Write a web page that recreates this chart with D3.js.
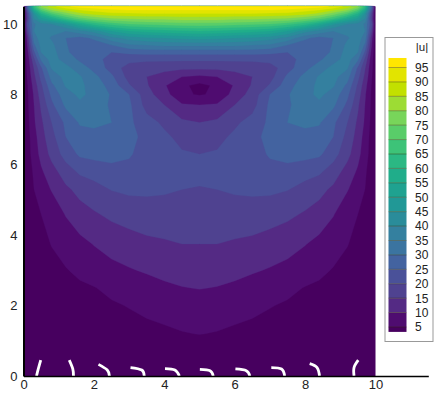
<!DOCTYPE html>
<html>
<head>
<meta charset="utf-8">
<script src="https://cdn.jsdelivr.net/npm/d3@7"></script>
<style>
body { margin: 0; background: #fff; }
text { font-family: "Liberation Sans", Arial, sans-serif; fill: #222; }
</style>
</head>
<body>
<svg id="chart" width="436" height="395"></svg>
<script>
// grid lines of the field
var xs = [0,.12,.3,.5,.8,1.2,1.6,2,2.5,3,3.5,4,4.5,5,5.5,6,6.5,7,7.5,8,8.4,8.8,9.2,9.5,9.7,9.88,10];
var ys = [10.5,10.4,10.3,10.15,10,9.8,9.6,9.4,9.2,9,8.75,8.5,8.25,8,7.7,7.2,6.8,6.3,5.8,5.3,4.6,3.75,3,2.5,2,1.2,.5,0];

// |u|, one row per ys entry
var uRows = [
[2,30,65,80,88,94,97,98,99,100,100,100,100,100,100,100,100,100,99,98,97,94,88,80,65,30,2],
[1,25,55,70,80,86,90,92,94,95,95,95,95,95,95,95,95,95,94,92,90,86,80,70,55,25,1],
[1,20,45,60,70,78,84,87,89,89.5,90,90,90,90,90,90,90,89.5,89,87,84,78,70,60,45,20,1],
[1,18,40,48,55,65,72,76,79,80,81,81,82,82,82,81,81,80,79,76,72,65,55,48,40,18,1],
[1,22,34,38,40,46,55,62,67,70,71,72,73,73,73,72,71,70,67,62,55,46,40,38,34,22,1],
[1,18,35,38,36,35,38,42,50,55,57,58,59,60,59,58,57,55,50,42,38,35,36,38,35,18,1],
[1,13,33,37,34.5,30,28,31,38,42,44,45,46,47,46,45,44,42,38,31,28,30,34.5,37,33,13,1],
[1,11,29,36.5,36,30.5,26,27,30,34,35,36,36,36,36,36,35,34,30,27,26,30.5,36,36.5,29,11,1],
[1,9,24,35,37,31,27,25,25,26,27,27,27,27,27,27,27,26,25,25,27,31,37,35,24,9,1],
[1,7.5,19,31,37,33,29,26,24,22,21,21,21,21,21,21,21,22,24,26,29,33,37,31,19,7.5,1],
[1,6.7,15.5,24,35.5,36.5,32.5,28.5,23,17.5,17,16.5,16,16,16,16.5,17,17.5,23,28.5,32.5,36.5,35.5,24,15.5,6.7,1],
[1,5.9,13.8,21.5,32,36.5,35.5,31.5,26,18,15,13,10,9,10,13,15,18,26,31.5,35.5,36.5,32,21.5,13.8,5.9,1],
[1,5,12,19,28.8,35.5,36,33,28,20.5,15.5,10.5,6,3.5,6,10.5,15.5,20.5,28,33,36,35.5,28.8,19,12,5,1],
[1,4.6,10.7,17.5,26.2,33,36,33.5,29.5,25,17,12,6,4.5,6,12,17,25,29.5,33.5,36,33,26.2,17.5,10.7,4.6,1],
[1,4.3,10,15.8,23.8,31,34,33.5,29,26,18,15,10.5,10,10.5,15,18,26,29,33.5,34,31,23.8,15.8,10,4.3,1],
[1,3.8,9.3,14,20,26,30.5,31,30,26,22,19,16,15,16,19,22,26,30,31,30.5,26,20,14,9.3,3.8,1],
[1,3.3,8,13,18.3,25,28,28.5,28,26,24,21,18.5,17.5,18.5,21,24,26,28,28.5,28,25,18.3,13,8,3.3,1],
[1,3,7.3,11.5,16.5,22,25.8,26.5,26.5,25.5,23,21.5,20.5,20,20.5,21.5,23,25.5,26.5,26.5,25.8,22,16.5,11.5,7.3,3,1],
[1,2.4,5.8,9.2,13,17.5,20.8,22,23.5,23.5,23,22.5,22,22,22,22.5,23,23.5,23.5,22,20.8,17.5,13,9.2,5.8,2.4,1],
[1,2,5,7.5,10.3,14,16.5,18,20.2,21,21,20.7,20,19.5,20,20.7,21,21,20.2,18,16.5,14,10.3,7.5,5,2,1],
[1,1.5,3,5,7,10.3,13,14.5,16,17,17.5,17.5,17.5,17.5,17.5,17.5,17.5,17,16,14.5,13,10.3,7,5,3,1.5,1],
[1,1,2.5,3.5,5.2,7,8.6,10.2,12,13,14,14.5,15,15,15,14.5,14,13,12,10.2,8.6,7,5.2,3.5,2.5,1,1],
[1,1,1.5,2.5,3.5,4.7,6,7,8.5,9.6,10.5,11.5,12,12.3,12,11.5,10.5,9.6,8.5,7,6,4.7,3.5,2.5,1.5,1,1],
[.8,.8,1.2,1.8,2.5,3.5,4.2,4.8,6,7,8,9,9.8,10.2,9.8,9,8,7,6,4.8,4.2,3.5,2.5,1.8,1.2,.8,.8],
[.6,.6,.9,1.2,1.8,2.5,3.2,3.8,4.5,5.2,6,6.5,7,7.5,7,6.5,6,5.2,4.5,3.8,3.2,2.5,1.8,1.2,.9,.6,.6],
[.4,.4,.5,.7,1,1.4,1.8,2.2,2.8,3.3,3.8,4.3,4.8,5.1,4.8,4.3,3.8,3.3,2.8,2.2,1.8,1.4,1,.7,.5,.4,.4],
[.2,.2,.3,.4,.5,.7,.9,1.1,1.3,1.5,1.7,1.9,2,2,2,1.9,1.7,1.5,1.3,1.1,.9,.7,.5,.4,.3,.2,.2],
[0,0,0,0,0,0,0,0,0,0,0,0,0,0,0,0,0,0,0,0,0,0,0,0,0,0,0]
];

var levels = [5,10,15,20,25,30,35,40,45,50,55,60,65,70,75,80,85,90,95];
var bandColors = ["#47005f","#4f0c70","#542a84","#4f4290","#4a5199","#4363a0","#3b74a0","#34809f","#2a8c9a","#219896",
                  "#1fa290","#20ad8a","#2bb883","#3dc378","#59cd69","#78d55a","#9ddc34","#c2e000","#e2e400","#ffe600"];
var xTicks = [0,2,4,6,8,10];
var yTicks = [0,2,4,6,8,10];

// white streamlines near the floor
var stream1 = [[.37,0],[.42,.2],[.49,.45]];
var stream2 = [[1.42,0],[1.40,.2],[1.30,.45]];
var stream3 = [[2.44,0],[2.38,.17],[2.13,.33]];
var stream4 = [[3.43,0],[3.36,.17],[3.04,.24]];
var stream5 = [[4.43,0],[4.30,.17],[4.02,.21]];
var stream6 = [[5.39,0],[5.30,.15],[5.01,.19]];
var stream7 = [[6.43,0],[6.33,.15],[6.02,.2]];
var stream8 = [[7.42,0],[7.33,.2],[7.04,.24]];
var stream9 = [[8.41,0],[8.34,.24],[8.13,.35]];
var stream10 = [[9.39,0],[9.39,.24],[9.51,.45]];
var streams = [stream1,stream2,stream3,stream4,stream5,stream6,stream7,stream8,stream9,stream10];

var svg = d3.select("#chart");
var x = d3.scaleLinear().domain([0,11.5]).range([23.5,428.3]);
var y = d3.scaleLinear().domain([0,10.5]).range([376,6.4]);

// d3.contours works in cell coordinates, values sit at cell centres
var nx = xs.length, ny = ys.length;
var cellX = d3.scaleLinear().domain(xs.map(function(d,i){return i+.5;})).range(xs.map(function(d){return x(d);})).clamp(true);
var cellY = d3.scaleLinear().domain(ys.map(function(d,i){return i+.5;})).range(ys.map(function(d){return y(d);})).clamp(true);
var path = d3.geoPath(d3.geoTransform({point:function(a,b){this.stream.point(cellX(a),cellY(b));}}));

var contours = d3.contours().size([nx,ny]).thresholds(levels)(d3.merge(uRows));

svg.append("rect").attr("x",x(0)).attr("y",y(10.5)).attr("width",x(10)-x(0)).attr("height",y(0)-y(10.5)).attr("fill",bandColors[0]);

svg.append("g").selectAll("path").data(contours).enter().append("path")
    .attr("d",path)
    .attr("fill",function(d,i){return bandColors[i+1];})
    .attr("stroke",function(d,i){return bandColors[i+1];})
    .attr("stroke-width",.3);

var line = d3.line().x(function(d){return x(d[0]);}).y(function(d){return y(d[1]);}).curve(d3.curveNatural);
svg.append("g").selectAll("path").data(streams).enter().append("path")
    .attr("d",line)
    .attr("fill","none")
    .attr("stroke","#fff")
    .attr("stroke-width",2.8);

// axes
var xAxis = svg.append("g").attr("transform","translate(0,"+y(0)+")")
    .call(d3.axisBottom(x).tickValues(xTicks).tickSize(0).tickPadding(4).tickSizeOuter(0));
var yAxis = svg.append("g").attr("transform","translate("+x(0)+",0)")
    .call(d3.axisLeft(y).tickValues(yTicks).tickSize(0).tickPadding(6).tickSizeOuter(0));
xAxis.selectAll("text").attr("font-size",13).style("font-size","13px");
yAxis.selectAll("text").attr("font-size",13).style("font-size","13px");
xAxis.select(".domain").attr("stroke","#000").attr("stroke-width",1.5);
yAxis.select(".domain").attr("stroke","#000").attr("stroke-width",2);

// legend
svg.append("rect").attr("x",385).attr("y",37.5).attr("width",48).attr("height",304)
    .attr("fill","#fff").attr("stroke","#999").attr("stroke-width",1);
svg.append("text").attr("x",422).attr("y",51).attr("text-anchor","middle").style("font-size","11.5px").text("|u|");

var legY = d3.scaleLinear().domain([5,95]).range([327,67.5]);
var legEdges = [3.3].concat(levels,[98.3]);
svg.append("g").selectAll("rect").data(bandColors).enter().append("rect")
    .attr("x",388.5).attr("width",18)
    .attr("y",function(d,i){return legY(legEdges[i+1]);})
    .attr("height",function(d,i){return legY(legEdges[i])-legY(legEdges[i+1]);})
    .attr("fill",function(d){return d;});
svg.append("g").selectAll("line").data(levels).enter().append("line")
    .attr("x1",388.5).attr("x2",406.5)
    .attr("y1",function(d){return legY(d);}).attr("y2",function(d){return legY(d);})
    .attr("stroke","#332b00").attr("stroke-opacity",.4);
var legAxis = svg.append("g").attr("transform","translate(415,0)")
    .call(d3.axisRight(legY).tickValues(levels).tickSize(0).tickPadding(0));
legAxis.select(".domain").remove();
legAxis.selectAll("text").style("font-size","12px");
</script>
</body>
</html>
